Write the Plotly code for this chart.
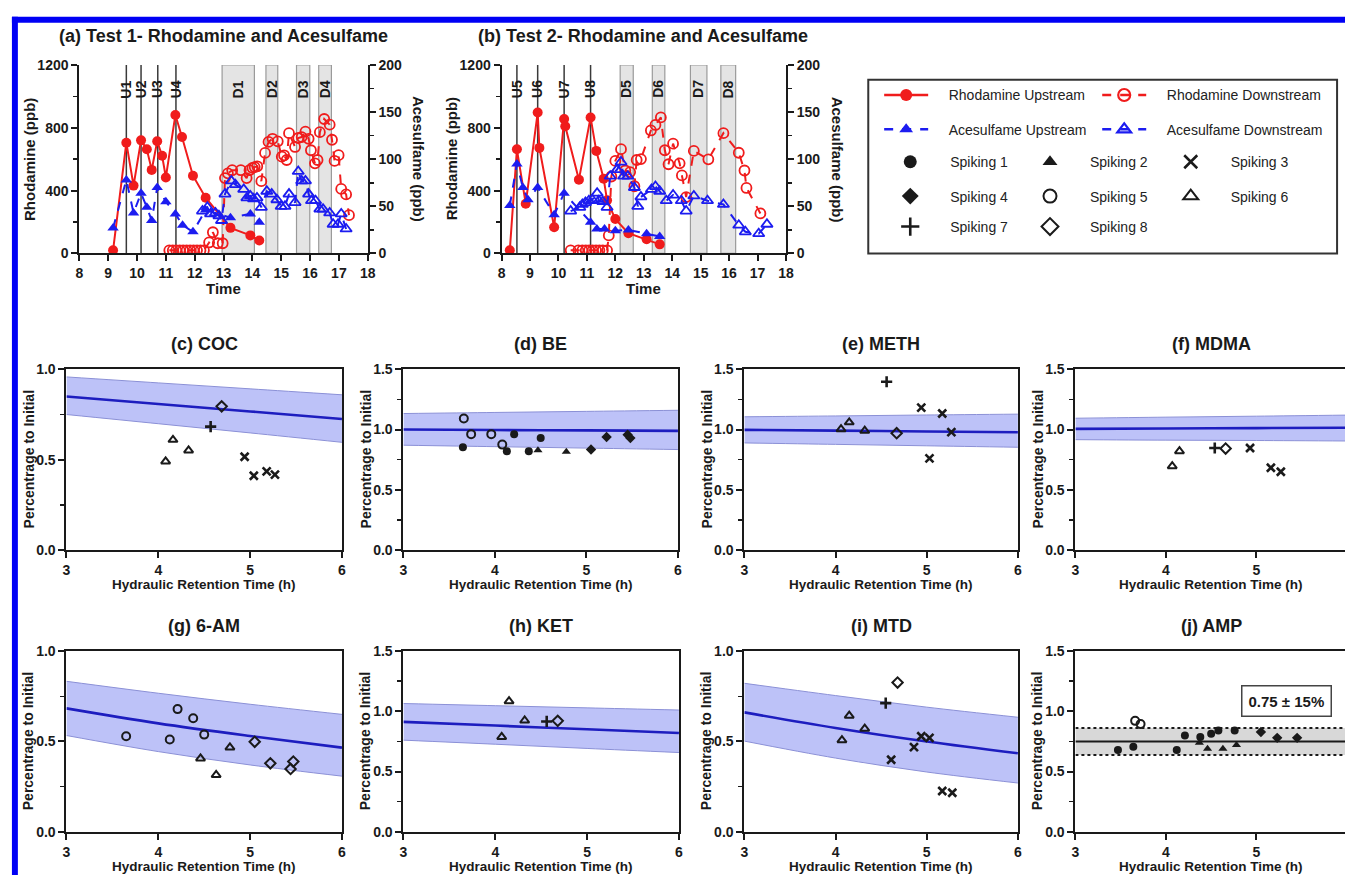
import plotly.graph_objects as go

W, H = 1353, 883
FONT = "Liberation Sans, Arial, sans-serif"
INK = "#1a1a1a"
RED = "#f01c1c"
BLUE = "#1c1cf0"

# ---------------- Panel (a) Test 1 data ----------------
A_RHOD_UP_T = [9.17, 9.63, 9.88, 10.14, 10.34, 10.51, 10.70, 10.87, 11.00, 11.33, 11.56, 11.94, 12.38, 13.24, 13.93, 14.24]
A_RHOD_UP_V = [20, 705, 432, 720, 663, 532, 714, 622, 484, 881, 741, 495, 355, 163, 115, 83]
A_RHOD_DN_T = [11.12, 11.24, 11.36, 11.48, 11.60, 11.72, 11.84, 11.96, 12.08, 12.20, 12.32,
               12.50, 12.63, 12.80, 12.97, 13.05, 13.15, 13.30, 13.60, 13.80, 13.90, 14.00, 14.08, 14.17,
               14.31, 14.44, 14.56, 14.70, 14.88, 15.02, 15.10, 15.19, 15.27, 15.48, 15.59, 15.71, 15.84,
               15.95, 16.03, 16.17, 16.26, 16.34, 16.49, 16.68, 16.76, 16.85, 16.99, 17.08, 17.25, 17.35]
A_RHOD_DN_V = [20, 20, 20, 20, 20, 20, 20, 20, 20, 20, 20,
               70, 135, 65, 65, 480, 510, 530, 530, 480, 530, 545, 550, 555,
               460, 640, 710, 730, 714, 616, 625, 595, 766, 678, 735, 741, 776,
               730, 657, 574, 595, 772, 856, 820, 724, 589, 626, 411, 376, 244]
A_ACE_UP_T = [9.17, 9.63, 9.88, 10.14, 10.34, 10.51, 10.70, 11.00, 11.33, 11.58, 11.94, 12.38, 13.24, 13.93, 14.24]
A_ACE_UP_V = [27, 78, 43, 64, 49, 35, 70, 55, 42, 30, 23, 46, 38, 42, 33]
A_ACE_DN_T = [12.27, 12.44, 12.55, 12.72, 12.84, 12.93, 13.05, 13.27, 13.41, 13.70, 13.81, 13.93, 14.04,
              14.16, 14.31, 14.50, 14.67, 14.85, 15.00, 15.13, 15.27, 15.48, 15.59, 15.71, 15.84, 15.95,
              16.05, 16.19, 16.34, 16.45, 16.68, 16.80, 16.97, 17.08, 17.25]
A_ACE_DN_V = [45, 49, 42, 43, 40, 35, 63, 77, 73, 68, 59, 61, 58,
              59, 49, 66, 63, 57, 50, 50, 63, 54, 87, 77, 77, 63,
              56, 56, 47, 47, 43, 31, 31, 42, 26]
A_U_LINES = [9.63, 10.14, 10.72, 11.35]
A_U_LABELS = ["U1", "U2", "U3", "U4"]
A_D_BANDS = [(12.95, 14.07), (14.47, 14.88), (15.53, 15.99), (16.30, 16.74)]
A_D_LABELS = ["D1", "D2", "D3", "D4"]

# ---------------- Panel (b) Test 2 data ----------------
B_RHOD_UP_T = [8.29, 8.54, 8.85, 9.27, 9.33, 9.85, 10.20, 10.24, 10.72, 11.13, 11.33, 11.59, 11.71, 12.00, 12.46, 13.10, 13.56]
B_RHOD_UP_V = [20, 663, 317, 897, 672, 167, 856, 810, 470, 866, 653, 476, 338, 219, 129, 90, 58]
B_RHOD_DN_T = [10.43, 10.70, 10.84, 10.96, 11.08, 11.20, 11.32, 11.44, 11.56, 11.71,
               11.77, 11.86, 12.00, 12.20, 12.35, 12.52, 12.67, 12.75, 12.90, 13.25,
               13.41, 13.60, 13.74, 13.87, 14.03, 14.26, 14.34, 14.49, 14.76, 15.27,
               15.80, 16.34, 16.54, 16.61, 17.10]
B_RHOD_DN_V = [20, 20, 20, 20, 20, 20, 20, 20, 20, 20,
               115, 490, 589, 664, 528, 518, 428, 595, 601, 783,
               818, 866, 657, 568, 699, 574, 497, 359, 653, 599,
               766, 641, 528, 417, 255]
B_ACE_UP_T = [8.29, 8.54, 8.75, 8.93, 9.27, 9.85, 10.20, 11.13, 11.35, 11.62, 12.00, 12.46, 13.10, 13.56]
B_ACE_UP_V = [51, 95, 70, 57, 70, 41, 64, 33, 26, 26, 24, 25, 21, 18]
B_ACE_DN_T = [10.43, 10.75, 10.84, 10.95, 11.07, 11.19, 11.36, 11.42, 11.56, 11.71,
              11.82, 12.06, 12.20, 12.29, 12.44, 12.67, 12.79, 12.90, 13.27, 13.41,
              13.56, 13.79, 14.03, 14.32, 14.49, 14.76, 15.24, 15.80, 16.34, 16.57,
              17.04, 17.33]
B_ACE_DN_V = [45, 49, 52, 54, 56, 57, 64, 56, 55, 49,
              82, 89, 97, 82, 82, 70, 50, 60, 68, 71,
              66, 56, 62, 56, 45, 61, 56, 52, 30, 23,
              21, 31]
B_U_LINES = [8.54, 9.27, 10.20, 11.13]
B_U_LABELS = ["U5", "U6", "U7", "U8"]
B_D_BANDS = [(12.17, 12.63), (13.30, 13.74), (14.64, 15.22), (15.71, 16.23)]
B_D_LABELS = ["D5", "D6", "D7", "D8"]

# ---------------- Degradation panels ----------------
FIT_X = [3, 4, 5, 6]
COC_FIT = [0.850, 0.808, 0.767, 0.725]
COC_HI = [0.958, 0.925, 0.892, 0.859]
COC_LO = [0.750, 0.699, 0.648, 0.596]
BE_FIT = [1.000, 0.996, 0.993, 0.989]
BE_HI = [1.133, 1.142, 1.151, 1.160]
BE_LO = [0.870, 0.858, 0.846, 0.834]
METH_FIT = [0.997, 0.991, 0.984, 0.978]
METH_HI = [1.106, 1.113, 1.121, 1.128]
METH_LO = [0.889, 0.877, 0.865, 0.853]
MDMA_FIT = [1.006, 1.009, 1.012, 1.015]
MDMA_HI = [1.094, 1.103, 1.111, 1.120]
MDMA_LO = [0.916, 0.912, 0.909, 0.905]
AM6_FIT = [0.683, 0.600, 0.530, 0.466]
AM6_HI = [0.833, 0.767, 0.706, 0.650]
AM6_LO = [0.533, 0.444, 0.370, 0.308]
KET_FIT = [0.913, 0.882, 0.851, 0.820]
KET_HI = [1.065, 1.047, 1.029, 1.011]
KET_LO = [0.761, 0.727, 0.692, 0.658]
MTD_FIT = [0.661, 0.575, 0.500, 0.435]
MTD_HI = [0.822, 0.754, 0.690, 0.634]
MTD_LO = [0.502, 0.408, 0.331, 0.270]
AMP_MEAN = 0.75
AMP_PCT = 0.15
AMP_LABEL = "0.75 ± 15%"

# spiking number -> (hydraulic retention time, fraction of initial)
COC_PTS = {6: ([4.08, 4.16, 4.33], [0.490, 0.610, 0.551]),
           7: ([4.57], [0.683]),
           8: ([4.69], [0.795]),
           3: ([4.94, 5.04, 5.18, 5.27], [0.516, 0.411, 0.435, 0.417])}
BE_PTS = {5: ([3.66, 3.74, 3.96, 4.08], [1.092, 0.962, 0.962, 0.875]),
          1: ([3.65, 4.13, 4.21, 4.37, 4.50], [0.853, 0.820, 0.962, 0.820, 0.929]),
          2: ([4.47, 4.78], [0.829, 0.815]),
          4: ([5.05, 5.22, 5.45, 5.48], [0.834, 0.938, 0.957, 0.929])}
METH_PTS = {6: ([4.06, 4.15, 4.32], [1.003, 1.060, 0.990]),
            7: ([4.56], [1.397]),
            8: ([4.67], [0.970]),
            3: ([4.94, 5.03, 5.17, 5.27], [1.182, 0.761, 1.133, 0.978])}
MDMA_PTS = {6: ([4.07, 4.15], [0.696, 0.820]),
            7: ([4.54], [0.847]),
            8: ([4.66], [0.842]),
            3: ([4.93, 5.16, 5.27], [0.847, 0.683, 0.650])}
AM6_PTS = {5: ([3.65, 4.125, 4.21, 4.38, 4.50], [0.529, 0.511, 0.679, 0.629, 0.538]),
           6: ([4.46, 4.63, 4.78], [0.406, 0.315, 0.467]),
           8: ([5.05, 5.22, 5.44, 5.47], [0.498, 0.379, 0.348, 0.389])}
KET_PTS = {6: ([4.07, 4.15, 4.32], [0.788, 1.084, 0.924]),
           7: ([4.56], [0.916]),
           8: ([4.68], [0.921])}
MTD_PTS = {6: ([4.07, 4.15, 4.32], [0.507, 0.643, 0.571]),
           7: ([4.55], [0.712]),
           8: ([4.68], [0.826]),
           3: ([4.61, 4.86, 4.94, 5.03, 5.17, 5.28], [0.399, 0.469, 0.529, 0.520, 0.226, 0.216])}
AMP_PTS = {1: ([3.47, 3.64, 4.12, 4.21, 4.38, 4.50, 4.58, 4.76], [0.679, 0.707, 0.679, 0.799, 0.788, 0.815, 0.840, 0.840]),
           5: ([3.66, 3.72], [0.921, 0.894]),
           2: ([4.37, 4.46, 4.63, 4.78], [0.739, 0.690, 0.690, 0.720]),
           4: ([5.05, 5.23, 5.45], [0.829, 0.780, 0.780])}

SPIKE_NAMES = {i: f"Spiking {i}" for i in range(1, 9)}


def spike_marker(k, size=9):
    style = {1: ("circle", 0), 2: ("triangle-up", 0), 3: ("x-thin", 2.6), 4: ("diamond", 0),
             5: ("circle-open", 2.0), 6: ("triangle-up-open", 2.0), 7: ("cross-thin", 2.6), 8: ("diamond-open", 2.0)}
    sym, lw = style[k]
    return dict(symbol=sym, size=size, color=INK, line=dict(width=lw, color=INK))


def px_x(p):
    return min(max(p / W, 0.0), 1.0)


def px_y(p):
    return min(max(1 - p / H, 0.0), 1.0)


def xd(p0, p1):
    return [px_x(p0), px_x(p1)]


def yd(top, bot):
    return [px_y(bot), px_y(top)]


TICKFONT = dict(family=FONT, size=14, color=INK, weight="bold")


def axis(**kw):
    base = dict(showline=True, linecolor=INK, linewidth=2, ticks="outside", ticklen=6, tickwidth=2,
                tickcolor=INK, showgrid=False, zeroline=False, tickfont=TICKFONT, fixedrange=True)
    base.update(kw)
    return base


fig = go.Figure()
layout = dict(width=W, height=H, margin=dict(l=0, r=0, t=0, b=0),
              paper_bgcolor="white", plot_bgcolor="white", showlegend=True, hovermode=False)
shapes, annotations = [], []


def ann(text, px, py, size=16, angle=0, bold=True, xanchor="center"):
    annotations.append(dict(text=text, x=px_x(px), y=px_y(py), xref="paper", yref="paper", showarrow=False,
                            font=dict(family=FONT, size=size, color=INK, weight="bold" if bold else "normal"),
                            textangle=angle, xanchor=xanchor, yanchor="middle"))


# ---------------- Top panels (a) and (b) ----------------
top_panels = [
    dict(box=(76, 367, 58, 250), xa="x", ya="y", ya2="y2", xk="xaxis", yk="yaxis", yk2="yaxis2",
         title="(a) Test 1- Rhodamine and Acesulfame", title_x=221,
         ru=(A_RHOD_UP_T, A_RHOD_UP_V), rd=(A_RHOD_DN_T, A_RHOD_DN_V),
         au=(A_ACE_UP_T, A_ACE_UP_V), ad=(A_ACE_DN_T, A_ACE_DN_V),
         ulines=A_U_LINES, ulab=A_U_LABELS, dbands=A_D_BANDS, dlab=A_D_LABELS),
    dict(box=(502, 789, 58, 250), xa="x2", ya="y3", ya2="y4", xk="xaxis2", yk="yaxis3", yk2="yaxis4",
         title="(b) Test 2- Rhodamine and Acesulfame", title_x=645,
         ru=(B_RHOD_UP_T, B_RHOD_UP_V), rd=(B_RHOD_DN_T, B_RHOD_DN_V),
         au=(B_ACE_UP_T, B_ACE_UP_V), ad=(B_ACE_DN_T, B_ACE_DN_V),
         ulines=B_U_LINES, ulab=B_U_LABELS, dbands=B_D_BANDS, dlab=B_D_LABELS),
]

for p in top_panels:
    x0, x1, y0, y1 = p["box"]
    layout[p["xk"]] = axis(domain=xd(x0, x1), range=[8, 18], dtick=1, anchor=p["ya"])
    layout[p["yk"]] = axis(domain=yd(y0, y1), range=[0, 1200], dtick=400, anchor=p["xa"],
                           minor=dict(ticks="outside", ticklen=4, tickwidth=1.5, tickcolor=INK, dtick=200))
    layout[p["yk2"]] = axis(range=[0, 200], dtick=50, overlaying=p["ya"], side="right", anchor=p["xa"],
                            minor=dict(ticks="outside", ticklen=4, tickwidth=1.5, tickcolor=INK, dtick=25))
    for (b0, b1), lab in zip(p["dbands"], p["dlab"]):
        shapes.append(dict(type="rect", xref=p["xa"], yref=p["ya"], x0=b0, x1=b1, y0=0, y1=1200,
                           fillcolor="#e4e4e4", line=dict(color="#9a9a9a", width=1.2), layer="below"))
        annotations.append(dict(text=lab, x=(b0 + b1) / 2, y=1045, xref=p["xa"], yref=p["ya"], showarrow=False,
                                textangle=-90, font=dict(family=FONT, size=14, color=INK, weight="bold")))
    for u, lab in zip(p["ulines"], p["ulab"]):
        shapes.append(dict(type="line", xref=p["xa"], yref=p["ya"], x0=u, x1=u, y0=0, y1=1200,
                           line=dict(color="#3a3a3a", width=1.5), layer="below"))
        annotations.append(dict(text=lab, x=u, y=1045, xref=p["xa"], yref=p["ya"], showarrow=False,
                                textangle=-90, font=dict(family=FONT, size=14, color=INK, weight="bold")))
    fig.add_trace(go.Scatter(x=p["au"][0], y=p["au"][1], xaxis=p["xa"], yaxis=p["ya2"], mode="lines+markers",
                             line=dict(color=BLUE, width=2, dash="dash"),
                             marker=dict(symbol="triangle-up", size=10, color=BLUE), showlegend=False))
    fig.add_trace(go.Scatter(x=p["ad"][0], y=p["ad"][1], xaxis=p["xa"], yaxis=p["ya2"], mode="lines+markers",
                             line=dict(color=BLUE, width=2, dash="dash"),
                             marker=dict(symbol="triangle-up-open", size=10, color=BLUE, line=dict(width=1.8)),
                             showlegend=False))
    fig.add_trace(go.Scatter(x=p["ru"][0], y=p["ru"][1], xaxis=p["xa"], yaxis=p["ya"], mode="lines+markers",
                             line=dict(color=RED, width=2), marker=dict(symbol="circle", size=10, color=RED),
                             showlegend=False))
    fig.add_trace(go.Scatter(x=p["rd"][0], y=p["rd"][1], xaxis=p["xa"], yaxis=p["ya"], mode="lines+markers",
                             line=dict(color=RED, width=2, dash="dash"),
                             marker=dict(symbol="circle-open", size=10, color=RED, line=dict(width=1.8)),
                             showlegend=False))
    ann(p["title"], p["title_x"], 29, size=18)
    ann("Time", (x0 + x1) / 2, 286, size=15)
    ann("Rhodamine (ppb)", x0 - 51, (y0 + y1) / 2, size=15, angle=-90)
    ann("Acesulfame (ppb)", x1 + 52, (y0 + y1) / 2, size=15, angle=90)

# ---------------- Bottom panels ----------------
bottom = [
    ("(c) COC", (63, 341, 368, 552), 1.0, COC_FIT, COC_HI, COC_LO, COC_PTS),
    ("(d) BE", (403, 680, 368, 552), 1.5, BE_FIT, BE_HI, BE_LO, BE_PTS),
    ("(e) METH", (747, 1023, 368, 552), 1.5, METH_FIT, METH_HI, METH_LO, METH_PTS),
    ("(f) MDMA", (1081, 1353, 368, 552), 1.5, MDMA_FIT, MDMA_HI, MDMA_LO, MDMA_PTS),
    ("(g) 6-AM", (63, 341, 655, 839), 1.0, AM6_FIT, AM6_HI, AM6_LO, AM6_PTS),
    ("(h) KET", (403, 681, 655, 839), 1.5, KET_FIT, KET_HI, KET_LO, KET_PTS),
    ("(i) MTD", (747, 1023, 655, 839), 1.0, MTD_FIT, MTD_HI, MTD_LO, MTD_PTS),
    ("(j) AMP", (1081, 1353, 655, 839), 1.5, None, None, None, AMP_PTS),
]
EDGE_UNIT_PX = 91.3  # pixels per hour on the two right-most panels, which run off the page

for i, (title, (x0, x1, y0, y1), ymax, fit, hi, lo, pts) in enumerate(bottom):
    n = i + 3
    xa, ya = f"x{n}", f"y{n + 2}"
    edge = x1 >= W
    unit = EDGE_UNIT_PX if edge else (x1 - x0) / 3
    xmax = 3 + (x1 - x0) / unit
    layout[f"xaxis{n}"] = axis(domain=xd(x0, x1), range=[3, xmax], tickvals=[3, 4, 5, 6], anchor=ya,
                               mirror=True)
    layout[f"yaxis{n + 2}"] = axis(domain=yd(y0, y1), range=[0, ymax], dtick=0.5, tickformat=".1f", anchor=xa,
                                   mirror=not edge,
                                   minor=dict(ticks="outside", ticklen=4, tickwidth=1.5, tickcolor=INK, dtick=0.25))
    if fit is not None:
        fig.add_trace(go.Scatter(x=FIT_X, y=hi, xaxis=xa, yaxis=ya, mode="lines", line_shape="spline",
                                 line=dict(color="#8b90d6", width=1), showlegend=False, hoverinfo="skip"))
        fig.add_trace(go.Scatter(x=FIT_X, y=lo, xaxis=xa, yaxis=ya, mode="lines", line_shape="spline",
                                 fill="tonexty", fillcolor="rgb(189,194,248)",
                                 line=dict(color="#8b90d6", width=1), showlegend=False, hoverinfo="skip"))
        fig.add_trace(go.Scatter(x=FIT_X, y=fit, xaxis=xa, yaxis=ya, mode="lines", line_shape="spline",
                                 line=dict(color="#1d1dbf", width=2.6), showlegend=False, hoverinfo="skip"))
    else:
        band_hi = AMP_MEAN * (1 + AMP_PCT)
        band_lo = AMP_MEAN * (1 - AMP_PCT)
        xs = [3, 6]
        fig.add_trace(go.Scatter(x=xs, y=[band_hi, band_hi], xaxis=xa, yaxis=ya, mode="lines",
                                 line=dict(color=INK, width=2, dash="dot"), showlegend=False))
        fig.add_trace(go.Scatter(x=xs, y=[band_lo, band_lo], xaxis=xa, yaxis=ya, mode="lines", fill="tonexty",
                                 fillcolor="#d8d8d8", line=dict(color=INK, width=2, dash="dot"), showlegend=False))
        fig.add_trace(go.Scatter(x=xs, y=[AMP_MEAN, AMP_MEAN], xaxis=xa, yaxis=ya, mode="lines",
                                 line=dict(color=INK, width=2), showlegend=False))
        annotations.append(dict(text=AMP_LABEL, x=5.33, y=1.09, xref=xa, yref=ya, showarrow=False,
                                bgcolor="white", bordercolor="#444", borderwidth=1.5, borderpad=6,
                                font=dict(family=FONT, size=15, color=INK, weight="bold")))
    for k, (xs, ys) in pts.items():
        fig.add_trace(go.Scatter(x=xs, y=ys, xaxis=xa, yaxis=ya, mode="markers", marker=spike_marker(k, 8),
                                 name=SPIKE_NAMES[k], showlegend=False))
    full_w = 3 * unit
    ann(title, x0 + full_w / 2, y0 - 26, size=18)
    ann("Hydraulic Retention Time (h)", x0 + full_w / 2, y1 + 35, size=13.5)
    ann("Percentrage to Initial", x0 - 38, (y0 + y1) / 2, size=14, angle=-90)

# ---------------- Legend (one plotly legend per entry, laid out in a grid) ----------------
LEGEND_ROWS = [89, 124, 157, 192, 223]
NB = "\u00a0" * 4
line_entries = [
    ("Rhodamine Upstream", dict(color=RED, width=2.5), dict(symbol="circle", size=12, color=RED), 0, 0),
    ("Rhodamine Downstream", dict(color=RED, width=2.5, dash="dash"),
     dict(symbol="circle-open", size=12, color=RED, line=dict(width=2.2)), 1, 0),
    ("Acesulfame Upstream", dict(color=BLUE, width=2.5, dash="dash"),
     dict(symbol="triangle-up", size=12, color=BLUE), 0, 1),
    ("Acesulfame Downstream", dict(color=BLUE, width=2.5, dash="dash"),
     dict(symbol="triangle-up-open", size=12, color=BLUE, line=dict(width=2.2)), 1, 1),
]
LINE_COL_X = [883, 1103]
SPIKE_COL_X = [874, 1015, 1157]
leg_id = 1
for name, ln, mk, col, row in line_entries:
    key = "legend" if leg_id == 1 else f"legend{leg_id}"
    fig.add_trace(go.Scatter(x=[None], y=[None], mode="lines+markers", line=ln, marker=mk, name=NB + name,
                             legend=key, showlegend=True))
    layout[key] = dict(x=px_x(LINE_COL_X[col]), y=px_y(LEGEND_ROWS[row]), xanchor="left", yanchor="middle",
                       bgcolor="rgba(0,0,0,0)", borderwidth=0, itemwidth=44,
                       font=dict(family=FONT, size=14, color="#222"))
    leg_id += 1
for k in range(1, 9):
    col, row = (k - 1) % 3, 2 + (k - 1) // 3
    key = f"legend{leg_id}"
    fig.add_trace(go.Scatter(x=[None], y=[None], mode="markers", marker=spike_marker(k, 13),
                             name=SPIKE_NAMES[k], legend=key, showlegend=True))
    layout[key] = dict(x=px_x(SPIKE_COL_X[col]), y=px_y(LEGEND_ROWS[row]), xanchor="left", yanchor="middle",
                       bgcolor="rgba(0,0,0,0)", borderwidth=0, itemwidth=70,
                       font=dict(family=FONT, size=14, color="#222"))
    leg_id += 1

shapes.append(dict(type="rect", xref="paper", yref="paper", x0=px_x(872), x1=px_x(1345),
                   y0=px_y(250), y1=px_y(73), line=dict(color="#333", width=2)))

# ---------------- Blue page frame ----------------
shapes.append(dict(type="rect", xref="paper", yref="paper", x0=px_x(8), x1=px_x(14), y0=0, y1=px_y(9),
                   fillcolor="#0000f5", line=dict(width=0)))
shapes.append(dict(type="rect", xref="paper", yref="paper", x0=px_x(8), x1=1, y0=px_y(15), y1=px_y(9),
                   fillcolor="#0000f5", line=dict(width=0)))

layout["shapes"] = shapes
layout["annotations"] = annotations
fig.update_layout(**layout)

# drop the page's default 8px body margin so the 1353x883 figure fills the window exactly
fig.write_html("out.html", config={"displayModeBar": False, "staticPlot": True},
               post_script="document.body.style.margin='0';document.body.style.overflow='hidden';")
